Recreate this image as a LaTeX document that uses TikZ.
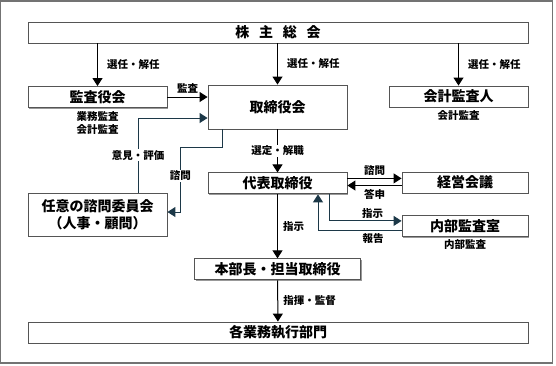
\documentclass[tikz,border=0pt]{standalone}
\usepackage{fontspec}
\setmainfont{Noto Sans CJK JP}
\usepackage{tikz}
\usetikzlibrary{arrows.meta,positioning,shadows}
\definecolor{linkblue}{RGB}{28,56,72}
\definecolor{boxgray}{RGB}{85,85,85}

\begin{document}
\begin{tikzpicture}[x=1pt,y=-1pt,box/.style={draw=boxgray,fill=white,line width=0.9pt,inner sep=0pt,minimum width=139pt,minimum height=21pt,align=center,font=\fontsize{14}{17}\selectfont\bfseries,drop shadow={shadow xshift=1.3pt,shadow yshift=-1.3pt,fill=black!40,opacity=1}},lbl/.style={inner sep=1pt,align=center,font=\fontsize{10.5}{13.5}\selectfont\bfseries},arr/.style={-{Triangle[length=8pt,width=10pt]},line width=1pt},arrb/.style={arr,draw=linkblue}]
\useasboundingbox (0,0) rectangle (556,365);
\draw[line width=1.2pt,draw=black!55] (0.6,1) rectangle (552.4,363);
\node[box,minimum width=500pt] (soukai) at (278,32.5) {株\hspace{0.7em}主\hspace{0.7em}総\hspace{0.7em}会};
\node[box] (kansa) at (97.5,97) {監査役会};
\node[box,minimum height=44pt] (torishimari) at (277.5,107) {取締役会};
\node[box] (kaikei) at (458.5,96.5) {会計監査人};
\node[box,minimum height=43pt] (shimon) at (97.5,214.5) {任意の諮問委員会\\（人事・顧問）};
\node[box,below=43pt of torishimari] (daihyo) {代表取締役};
\node[box,minimum width=126pt] (keiei) at (465,182.5) {経営会議};
\node[box,minimum width=126pt,below=22pt of keiei] (naibu) {内部監査室};
\node[box,minimum width=166pt,below=64pt of daihyo] (honbu) {本部長・担当取締役};
\node[box,minimum width=500pt] (gyomu) at (278,332.5) {各業務執行部門};
\node[lbl,below=2pt of kansa] (kansanote) {業務監査\\会計監査};
\node[lbl,below=2pt of kaikei] (kaikeinote) {会計監査};
\node[lbl,below=1pt of naibu] (naibunote) {内部監査};
\draw[arr] (soukai.south -| kansa) -- node[lbl,right=8pt] (senA) {選任・解任} (kansa);
\draw[arr] (soukai.south -| torishimari) -- node[lbl,right=8pt] (senB) {選任・解任} (torishimari);
\draw[arr] (soukai.south -| kaikei) -- node[lbl,right=8pt] (senC) {選任・解任} (kaikei);
\draw[arr] (kansa) -- node[lbl,above=2pt] (kansalbl) {監査} (kansa -| torishimari.west);
\draw[arrb] ([xshift=40.5pt]shimon.north) |- node[lbl,fill=white,pos=0.25] (iken) {意見・評価} ([yshift=-11pt]torishimari.west);
\draw[arrb] ([xshift=-55.5pt]torishimari.south) -- ++(0,18) -| node[lbl,fill=white,pos=0.72] (shimonA) {諮問} ([xshift=13pt,yshift=2.5pt]shimon.east) -- ([yshift=2.5pt]shimon.east);
\draw[arr] (torishimari) -- node[lbl,fill=white] (sentei) {選定・解職} (daihyo);
\draw[arr] ([yshift=5pt]daihyo.east) -- node[lbl,above=1pt] (shimonB) {諮問} ([yshift=5pt]daihyo.east -| keiei.west);
\draw[arr] ([yshift=-3pt]keiei.west) -- node[lbl,below=2pt] (toshin) {答申} ([yshift=-3pt]keiei.west -| daihyo.east);
\draw[arrb] ([xshift=51.5pt]daihyo.south) |- node[lbl,above=1pt,pos=0.8] (shijiB) {指示} ([yshift=5.5pt]naibu.west);
\draw[arrb] ([yshift=-4.5pt]naibu.west) -| node[lbl,below=1pt,pos=0.17] (houkoku) {報告} ([xshift=40.5pt]daihyo.south);
\draw[arr] (daihyo) -- node[lbl,right=4pt] (shijiA) {指示} (honbu);
\draw[arr] (honbu) -- node[lbl,right=4pt] (kantoku) {指揮・監督} (gyomu);
\end{tikzpicture}
\end{document}
